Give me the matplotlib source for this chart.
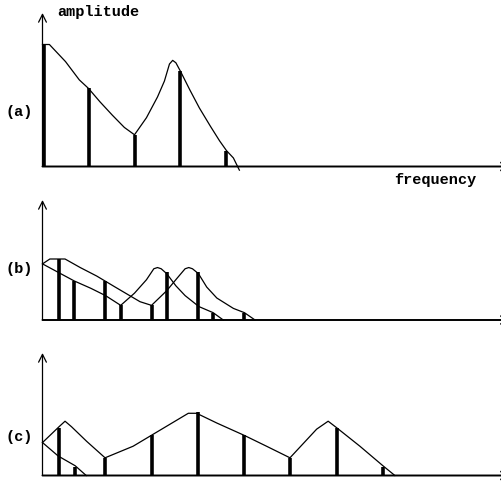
import matplotlib.pyplot as plt

# --- data (frequency in sample-spacing units, amplitude relative to the (a) maximum) ---
# (a) original spectrum
a_curve_x = [0.0, 0.15, 0.50, 0.80, 1.0, 1.25, 1.52, 1.78, 2.0, 2.26, 2.50, 2.65, 2.76, 2.83, 2.90, 3.0, 3.20, 3.41, 3.65, 3.85, 4.0, 4.15, 4.28]
a_curve_y = [1.0, 1.0, 0.86, 0.71, 0.64, 0.53, 0.42, 0.32, 0.26, 0.40, 0.57, 0.70, 0.84, 0.87, 0.85, 0.78, 0.63, 0.48, 0.33, 0.21, 0.13, 0.07, -0.03]
a_bar_x = [0.03, 1.0, 2.0, 3.0, 4.0]
a_bar_h = [1.0, 0.64, 0.26, 0.78, 0.13]

# (b) two shifted half-amplitude copies
b_upper_x = [0.0, 0.16, 0.49, 0.82, 1.18, 1.58, 2.12, 2.37, 2.70, 2.92, 3.10, 3.18, 3.26, 3.39, 3.57, 3.79, 4.15, 4.39, 4.62]
b_upper_y = [0.46, 0.50, 0.50, 0.43, 0.36, 0.27, 0.15, 0.12, 0.24, 0.34, 0.42, 0.43, 0.42, 0.38, 0.27, 0.18, 0.095, 0.06, 0.0]
b_lower_x = [0.0, 0.69, 1.05, 1.37, 1.70, 2.00, 2.26, 2.42, 2.50, 2.58, 2.70, 2.90, 3.10, 3.40, 3.71, 3.93]
b_lower_y = [0.46, 0.32, 0.26, 0.20, 0.12, 0.22, 0.33, 0.42, 0.43, 0.42, 0.38, 0.28, 0.20, 0.11, 0.06, 0.0]
b_bar_x = [0.36, 0.68, 1.36, 1.70, 2.38, 2.70, 3.38, 3.70, 4.38]
b_bar_h = [0.50, 0.32, 0.32, 0.12, 0.12, 0.39, 0.39, 0.06, 0.06]

# (c) modulated spectrum
c_curve_x = [0.0, 0.36, 0.49, 0.63, 0.96, 1.36, 1.97, 2.37, 2.77, 3.17, 3.35, 3.79, 4.38, 4.87,
             5.38, 5.96, 6.21, 6.40, 6.90, 7.40, 7.66]
c_curve_y = [0.27, 0.40, 0.445, 0.40, 0.28, 0.145, 0.24, 0.33, 0.42, 0.51, 0.51, 0.43, 0.33, 0.24,
             0.145, 0.38, 0.445, 0.39, 0.24, 0.08, 0.0]
c_tail_x = [0.0, 0.34, 0.71, 0.95]
c_tail_y = [0.27, 0.16, 0.08, 0.0]
c_bar_x = [0.36, 0.71, 1.36, 2.38, 3.38, 4.38, 5.38, 6.40, 7.40]
c_bar_h = [0.39, 0.07, 0.14, 0.33, 0.52, 0.33, 0.14, 0.39, 0.07]

W, H = 501, 482
ORIGIN_PX = 42.5
XUNIT = 46.0   # px per sample spacing
YUNIT = 122.0  # px per amplitude unit
FONT = dict(family="Liberation Mono", weight="bold", fontsize=11)


def make_axes(fig, baseline_px, top_px):
    # axes whose data origin sits at (ORIGIN_PX, baseline_px) in image pixels
    left_px = ORIGIN_PX - 0.3 * XUNIT
    bottom_px = baseline_px + 12
    ax = fig.add_axes([left_px / W, 1 - bottom_px / H, (W - left_px) / W, (bottom_px - top_px + 4) / H])
    ax.set_xlim(-0.3, (W - ORIGIN_PX) / XUNIT)
    ax.set_ylim(-12 / YUNIT, (baseline_px - top_px + 4) / YUNIT)
    ax.axis("off")
    ytop = (baseline_px - top_px) / YUNIT
    ax.annotate("", xy=(0, ytop), xytext=(0, 0), annotation_clip=False,
                arrowprops=dict(arrowstyle="->", lw=0.9, color="black", mutation_scale=14, shrinkA=0, shrinkB=0))
    # x axis runs off the right edge, only the ends of its arrowhead show
    ax.annotate("", xy=(511 / XUNIT - ORIGIN_PX / XUNIT, 0), xytext=(0, 0), annotation_clip=False,
                arrowprops=dict(arrowstyle="->", lw=1.4, color="black", mutation_scale=14, shrinkA=0, shrinkB=0))
    return ax


def draw_panel(ax, curves, bar_x, bar_h):
    for cx, cy in curves:
        ax.plot(cx, cy, color="black", lw=0.9, clip_on=False, solid_joinstyle="round")
    ax.vlines(bar_x, 0, bar_h, color="black", lw=2.6, capstyle="butt", clip_on=False)


fig = plt.figure(figsize=(W / 100, H / 100), dpi=100)

ax_a = make_axes(fig, 166.5, 13)
draw_panel(ax_a, [(a_curve_x, a_curve_y)], a_bar_x, a_bar_h)

ax_b = make_axes(fig, 320, 200)
draw_panel(ax_b, [(b_upper_x, b_upper_y), (b_lower_x, b_lower_y)], b_bar_x, b_bar_h)

ax_c = make_axes(fig, 475.5, 353)
draw_panel(ax_c, [(c_curve_x, c_curve_y), (c_tail_x, c_tail_y)], c_bar_x, c_bar_h)

fig.text(57 / W, 1 - 12 / H, "amplitude", va="center", ha="left", **FONT)
fig.text(394 / W, 1 - 180 / H, "frequency", va="center", ha="left", **FONT)
fig.text(5 / W, 1 - 112 / H, "(a)", va="center", ha="left", **FONT)
fig.text(5 / W, 1 - 269 / H, "(b)", va="center", ha="left", **FONT)
fig.text(5 / W, 1 - 437 / H, "(c)", va="center", ha="left", **FONT)

fig.savefig("out.png", dpi=100)
